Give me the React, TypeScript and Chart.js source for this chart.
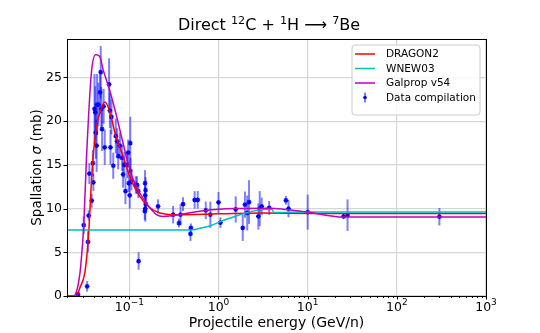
import React, { useEffect, useRef } from "react";
import { Chart, registerables } from "chart.js";
Chart.register(...registerables);

const FONT = '"DejaVu Sans", "Liberation Sans", sans-serif';

// Experimental data compilation (GeV/n, mb, ±mb)
const dataE = [0.0266,0.0336,0.0308,0.0344,0.035,0.0356,0.0379,0.039,0.0395,0.0407,0.0415,0.042,0.043,0.0435,0.045,0.047,0.0478,0.0485,0.0495,0.0515,0.053,0.0593,0.0605,0.063,0.0615,0.066,0.0705,0.073,0.075,0.0785,0.083,0.085,0.088,0.0905,0.0945,0.097,0.0985,0.101,0.1025,0.103,0.1055,0.118,0.122,0.127,0.126,0.150,0.152,0.1505,0.153,0.151,0.149,0.21,0.31,0.36,0.375,0.40,0.485,0.49,0.54,0.585,0.72,0.81,1.0,1.05,1.56,1.87,1.98,2.1,2.2,2.8,2.9,3.05,3.7,5.7,6.1,10.0,25.3,28.0,300];
const dataY = [0.2,1.1,8.1,6.2,9.2,14.0,10.9,15.2,13.0,21.4,21.0,18.7,17.2,21.9,21.9,23.3,25.6,21.4,19.1,21.7,17.0,24.2,21.2,20.5,17.0,14.9,18.3,17.7,16.0,17.2,15.8,13.9,15.0,12.0,15.0,16.4,12.9,11.5,17.5,14.3,13.1,12.7,12.7,4.0,12.0,12.9,12.1,11.5,10.5,10.0,9.7,10.25,9.3,8.35,9.3,10.5,7.1,7.8,11.0,11.0,9.8,9.3,10.7,8.4,9.9,7.8,10.45,9.5,10.75,9.1,10.0,10.25,10.07,10.95,10.0,9.6,9.1,9.25,9.07];
const dataErr = [0.2,0.6,1.0,1.2,0.6,1.2,0.8,1.5,1.0,4.0,3.0,3.0,3.0,3.5,2.5,2.5,3.0,2.5,2.5,2.0,2.0,3.0,2.0,2.0,2.0,1.5,2.0,1.5,1.5,1.5,1.5,1.5,1.5,1.5,1.5,1.5,1.0,1.5,3.0,1.5,1.0,1.0,1.0,1.0,0.8,1.5,1.5,1.0,1.0,1.5,1.0,0.8,1.0,0.5,1.2,0.8,0.8,0.5,1.0,1.0,1.0,1.5,1.2,0.6,1.5,1.5,1.5,2.0,2.5,1.5,2.0,1.0,0.8,0.5,1.0,2.0,0.3,1.8,1.0];

// Model curves
const dragonE = [0.02,0.0255,0.0278,0.0316,0.0336,0.0354,0.037,0.039,0.043,0.0487,0.053,0.06,0.0705,0.085,0.1,0.131,0.17,0.22,0.31,1.0,3.0,10,1000];
const dragonY = [0,0,0.9,2.6,4.9,8.0,11.8,15.6,19.4,21.5,22.2,21.2,18.3,16.0,13.8,11.4,10.1,9.5,9.3,9.4,9.5,9.45,9.45];

const wnewE = [0.02,0.5,0.62,0.83,1.1,1.53,2.35,3.94,4.2,10,1000];
const wnewY = [7.55,7.55,7.75,8.07,8.6,9.1,9.68,9.95,9.55,9.6,9.6];

const galpropE = [0.02,0.0234,0.0255,0.0272,0.0285,0.0308,0.033,0.0376,0.042,0.0466,0.0508,0.06,0.0718,0.085,0.101,0.12,0.156,0.202,0.24,0.31,0.74,1.5,3.8,9.8,25,1000];
const galpropY = [0,0,0.5,1.8,3.4,8.0,15.6,25.6,27.6,27.4,25.9,23.6,20.6,17.5,14.5,12.5,10.6,9.3,9.1,9.2,9.8,10.0,10.05,9.6,9.03,9.03];

const xTickValues = [0.1, 1, 10, 100, 1000];
const xTickExponents = ["\u22121", "0", "1", "2", "3"];
const yTickValues = [0, 5, 10, 15, 20, 25];
const legendLabels = ["DRAGON2", "WNEW03", "Galprop v54", "Data compilation"];
const colors = { dragon: "#ff0000", wnew: "#00bfbf", galprop: "#bf00bf", data: "#0000ff" };
const errColor = "rgba(0,0,255,0.5)";

type Part = { t: string; sup?: boolean };
function drawRich(ctx: CanvasRenderingContext2D, parts: Part[], cx: number, baseY: number, size: number, supSize: number, raise: number) {
  let total = 0;
  const widths = parts.map((p) => {
    ctx.font = `${p.sup ? supSize : size}px ${FONT}`;
    const w = ctx.measureText(p.t).width;
    total += w;
    return w;
  });
  let x = cx - total / 2;
  ctx.textAlign = "left";
  ctx.textBaseline = "alphabetic";
  parts.forEach((p, i) => {
    ctx.font = `${p.sup ? supSize : size}px ${FONT}`;
    ctx.fillText(p.t, x, p.sup ? baseY - raise : baseY);
    x += widths[i];
  });
}

const overlay = {
  id: "overlay",
  beforeDatasetDraw(chart: any, args: any) {
    if (args.index !== 3) return;
    const { ctx, chartArea: a, scales } = chart;
    const x = scales.x, y = scales.y;
    ctx.save();
    ctx.beginPath();
    ctx.rect(a.left, a.top, a.right - a.left, a.bottom - a.top);
    ctx.clip();
    ctx.strokeStyle = errColor;
    ctx.lineWidth = 2;
    dataE.forEach((e, i) => {
      const px = x.getPixelForValue(e);
      const y1 = y.getPixelForValue(dataY[i] - dataErr[i]);
      const y2 = y.getPixelForValue(dataY[i] + dataErr[i]);
      ctx.beginPath();
      ctx.moveTo(px, y1);
      ctx.lineTo(px, y2);
      ctx.stroke();
    });
    ctx.restore();
  },
  afterDraw(chart: any) {
    const { ctx, chartArea: a, scales } = chart;
    const x = scales.x, y = scales.y;
    ctx.save();
    // frame
    ctx.strokeStyle = "#000";
    ctx.lineWidth = 1;
    ctx.strokeRect(Math.round(a.left) + 0.5, Math.round(a.top) + 0.5, Math.round(a.right - a.left), Math.round(a.bottom - a.top));
    // x major + minor ticks
    ctx.beginPath();
    const decades = [0.01, 0.1, 1, 10, 100];
    decades.forEach((d) => {
      for (let k = 2; k <= 9; k++) {
        const v = d * k;
        if (v < x.min || v > x.max) continue;
        const px = Math.round(x.getPixelForValue(v)) + 0.5;
        ctx.moveTo(px, a.bottom);
        ctx.lineTo(px, a.bottom + 2);
      }
    });
    xTickValues.forEach((v) => {
      const px = Math.round(x.getPixelForValue(v)) + 0.5;
      ctx.moveTo(px, a.bottom);
      ctx.lineTo(px, a.bottom + 3.5);
    });
    yTickValues.forEach((v) => {
      const py = Math.round(y.getPixelForValue(v)) + 0.5;
      ctx.moveTo(a.left, py);
      ctx.lineTo(a.left - 3.5, py);
    });
    ctx.stroke();
    // x tick labels with exponents
    ctx.fillStyle = "#000";
    xTickValues.forEach((v, i) => {
      const px = x.getPixelForValue(v);
      drawRich(ctx, [{ t: "10" }, { t: xTickExponents[i], sup: true }], px, a.bottom + 14.5, 12.5, 9, 5.5);
    });
    // axis titles
    ctx.font = `14px ${FONT}`;
    ctx.textAlign = "center";
    ctx.textBaseline = "alphabetic";
    ctx.fillText("Projectile energy (GeV/n)", (a.left + a.right) / 2, 327);
    ctx.save();
    ctx.translate(41, (a.top + a.bottom) / 2);
    ctx.rotate(-Math.PI / 2);
    const p1 = "Spallation ", p2 = "\u03c3", p3 = " (mb)";
    ctx.font = `13.5px ${FONT}`;
    const w1 = ctx.measureText(p1).width, w3 = ctx.measureText(p3).width;
    ctx.font = `italic 13.5px ${FONT}`;
    const w2 = ctx.measureText(p2).width;
    let sx = -(w1 + w2 + w3) / 2;
    ctx.textAlign = "left";
    ctx.font = `13.5px ${FONT}`;
    ctx.fillText(p1, sx, 0); sx += w1;
    ctx.font = `italic 13.5px ${FONT}`;
    ctx.fillText(p2, sx, 0); sx += w2;
    ctx.font = `13.5px ${FONT}`;
    ctx.fillText(p3, sx, 0);
    ctx.restore();
    // title
    drawRich(ctx, [
      { t: "Direct " }, { t: "12", sup: true }, { t: "C + " }, { t: "1", sup: true },
      { t: "H " }, { t: "\u27f6" }, { t: " " }, { t: "7", sup: true }, { t: "Be" },
    ], 269, 30, 16, 11.2, 6.5);
    // legend
    const lx = 352, ly = 45, lw = 128, lh = 70;
    ctx.beginPath();
    const r = 3;
    ctx.moveTo(lx + r, ly);
    ctx.arcTo(lx + lw, ly, lx + lw, ly + lh, r);
    ctx.arcTo(lx + lw, ly + lh, lx, ly + lh, r);
    ctx.arcTo(lx, ly + lh, lx, ly, r);
    ctx.arcTo(lx, ly, lx + lw, ly, r);
    ctx.closePath();
    ctx.fillStyle = "rgba(255,255,255,0.8)";
    ctx.fill();
    ctx.strokeStyle = "#cccccc";
    ctx.lineWidth = 1;
    ctx.stroke();
    const rows = [54, 68.5, 83, 97.5];
    const lineCols = [colors.dragon, colors.wnew, colors.galprop];
    ctx.font = `10.5px ${FONT}`;
    ctx.textAlign = "left";
    ctx.textBaseline = "middle";
    rows.forEach((ry, i) => {
      if (i < 3) {
        ctx.strokeStyle = lineCols[i];
        ctx.lineWidth = 1.5;
        ctx.beginPath();
        ctx.moveTo(355, ry);
        ctx.lineTo(375, ry);
        ctx.stroke();
      } else {
        ctx.strokeStyle = errColor;
        ctx.lineWidth = 2;
        ctx.beginPath();
        ctx.moveTo(365, ry - 5);
        ctx.lineTo(365, ry + 5);
        ctx.stroke();
        ctx.fillStyle = colors.data;
        ctx.beginPath();
        ctx.arc(365, ry, 1.8, 0, Math.PI * 2);
        ctx.fill();
      }
      ctx.fillStyle = "#000";
      ctx.fillText(legendLabels[i], 386, ry + 0.5);
    });
    ctx.restore();
  },
};

export default function App() {
  const ref = useRef<HTMLCanvasElement>(null);
  useEffect(() => {
    if (!ref.current) return;
    const lineDs = (label: string, xs: number[], ys: number[], color: string, order: number) => ({
      type: "line" as const,
      label,
      data: xs.map((e, i) => ({ x: e, y: ys[i] })),
      borderColor: color,
      backgroundColor: color,
      borderWidth: 1.5,
      pointRadius: 0,
      showLine: true,
      cubicInterpolationMode: "monotone" as const,
      order,
    });
    const chart = new Chart(ref.current, {
      type: "scatter",
      data: {
        datasets: [
          lineDs(legendLabels[0], dragonE, dragonY, colors.dragon, 3),
          lineDs(legendLabels[1], wnewE, wnewY, colors.wnew, 2),
          lineDs(legendLabels[2], galpropE, galpropY, colors.galprop, 1),
          {
            type: "scatter" as const,
            label: legendLabels[3],
            data: dataE.map((e, i) => ({ x: e, y: dataY[i] })),
            pointStyle: "star",
            pointRadius: 2.4,
            borderWidth: 1.2,
            borderColor: colors.data,
            backgroundColor: colors.data,
            showLine: false,
            order: 4,
          },
        ],
      },
      options: {
        responsive: false,
        animation: false,
        events: [],
        layout: { padding: { left: 0, right: 54, top: 39, bottom: 0 } },
        plugins: { legend: { display: false }, title: { display: false }, tooltip: { enabled: false } },
        scales: {
          x: {
            type: "logarithmic",
            min: 0.02,
            max: 1000,
            afterBuildTicks: (s: any) => { s.ticks = xTickValues.map((v) => ({ value: v })); },
            afterFit: (s: any) => { s.height = 37; },
            ticks: { display: false },
            grid: { color: "#d6d6d6", lineWidth: 1.2, drawTicks: false },
            border: { display: false },
          },
          y: {
            type: "linear",
            min: 0,
            max: 29.4,
            afterBuildTicks: (s: any) => { s.ticks = yTickValues.map((v) => ({ value: v })); },
            afterFit: (s: any) => { s.width = 67; },
            ticks: { color: "#000", font: { family: FONT, size: 12.5 }, padding: 5 },
            grid: { color: "#d6d6d6", lineWidth: 1.2, drawTicks: false },
            border: { display: false },
          },
        },
      },
      plugins: [overlay],
    } as any);
    return () => chart.destroy();
  }, []);
  return (
    <div style={{ position: "fixed", left: 0, top: 0, width: 540, height: 333, background: "#fff" }}>
      <canvas ref={ref} width={540} height={333} />
    </div>
  );
}
